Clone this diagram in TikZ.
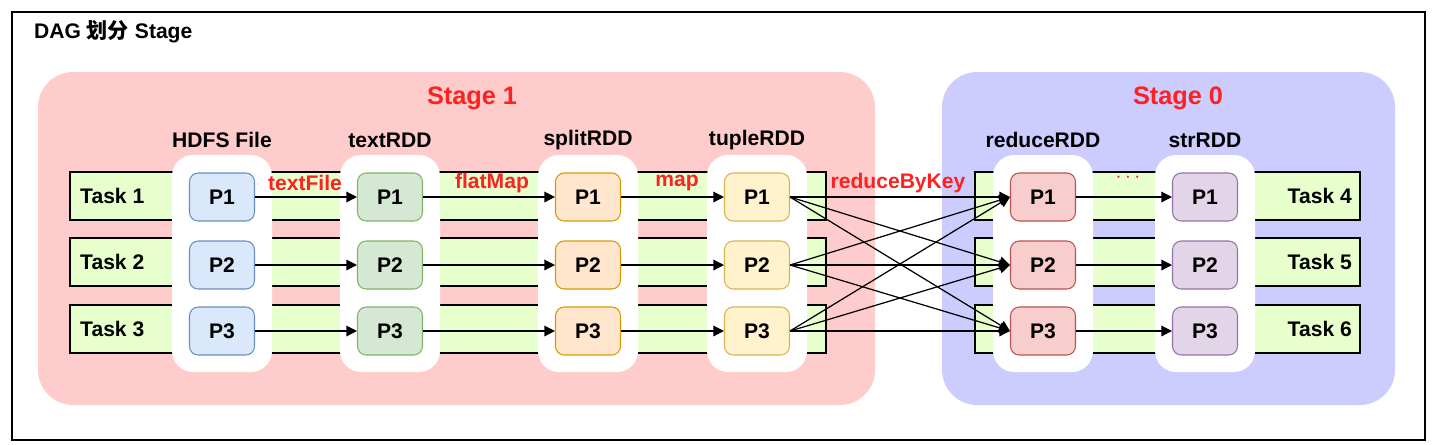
\documentclass[tikz,border=0pt]{standalone}
\usepackage{fontspec}
\setmainfont{Liberation Sans}
\newfontfamily\cjk{Noto Sans CJK SC}
\usetikzlibrary{positioning,arrows.meta}
\definecolor{pinkbg}{HTML}{FFCCCC}
\definecolor{bluebg}{HTML}{CCCCFF}
\definecolor{taskbg}{HTML}{E6FFCC}
\definecolor{stagered}{HTML}{FF2020}
\tikzset{
  part/.style = {draw, rounded corners=5pt, minimum width=1.3cm, minimum height=0.96cm, font=\bfseries\large, line width=0.6pt},
  taskbar/.style = {draw, fill=taskbg, line width=0.8pt},
  column/.style = {fill=white, rounded corners=12pt},
  flow/.style = {-{Triangle[length=6pt,width=6pt]}, line width=0.7pt},
  oplabel/.style = {text=stagered, font=\bfseries\large},
}
\begin{document}
\begin{tikzpicture}[x=0.02cm, y=-0.02cm]
\useasboundingbox (0,0) rectangle (1432,444);
\draw[line width=0.8pt] (12,12) rectangle (1425,440);
\node[anchor=west, font=\bfseries\large] (title) at (28,32) {DAG {\cjk 划分} Stage};
% stages
\fill[pinkbg, rounded corners=20pt] (38,72) rectangle (875,405);
\fill[bluebg, rounded corners=20pt] (942,72) rectangle (1395,405);
\node[text=stagered, font=\bfseries\Large] (s1) at (472,98) {Stage 1};
\node[text=stagered, font=\bfseries\Large] (s0) at (1178,98) {Stage 0};
% task bars
\foreach \y/\a/\b in {172/1/4, 238/2/5, 305/3/6} {
  \draw[taskbar] (70,\y) rectangle (826,\y+48);
  \draw[taskbar] (975,\y) rectangle (1360,\y+48);
  \node[anchor=west, font=\bfseries\large] (task\a) at (74,\y+24) {Task \a};
  \node[anchor=east, font=\bfseries\large] (task\b) at (1358,\y+24) {Task \b};
}
% columns and partitions
\foreach \n/\x/\lab/\fc/\dc in {hdfs/222/HDFS File/DAE8FC/6C8EBF, text/390/textRDD/D5E8D4/82B366,
    split/588/splitRDD/FFE6CC/D79B00, tuple/757/tupleRDD/FFF2CC/D6B656,
    reduce/1043/reduceRDD/F8CECC/B85450, str/1205/strRDD/E1D5E7/9673A6} {
  \fill[column] (\x-50,155) rectangle (\x+50,372);
  \node[font=\bfseries\large] (\n lab) at (\x,140) {\lab};
  \definecolor{fc}{HTML}{\fc}\definecolor{dc}{HTML}{\dc}
  \foreach \i/\y in {1/197, 2/265, 3/331}
    \node[part, fill=fc, draw=dc] (\n\i) at (\x,\y) {P\i};
}
% narrow dependencies
\foreach \i in {1,2,3} {
  \draw[flow] (hdfs\i) -- (text\i);
  \draw[flow] (text\i) -- (split\i);
  \draw[flow] (split\i) -- (tuple\i);
  \draw[flow] (reduce\i) -- (str\i);
  \foreach \j in {1,2,3}
    \draw[flow] (tuple\i.east) -- (reduce\j.west);
}
\node[oplabel] (l1) at (305,183) {textFile};
\node[oplabel] (l2) at (492,183) {flatMap};
\node[oplabel] (l3) at (677,183) {map};
\node[oplabel] (l4) at (898,183) {reduceByKey};
\node[oplabel] (l5) at (1128,178) {$\cdots$};
\end{tikzpicture}
\end{document}
